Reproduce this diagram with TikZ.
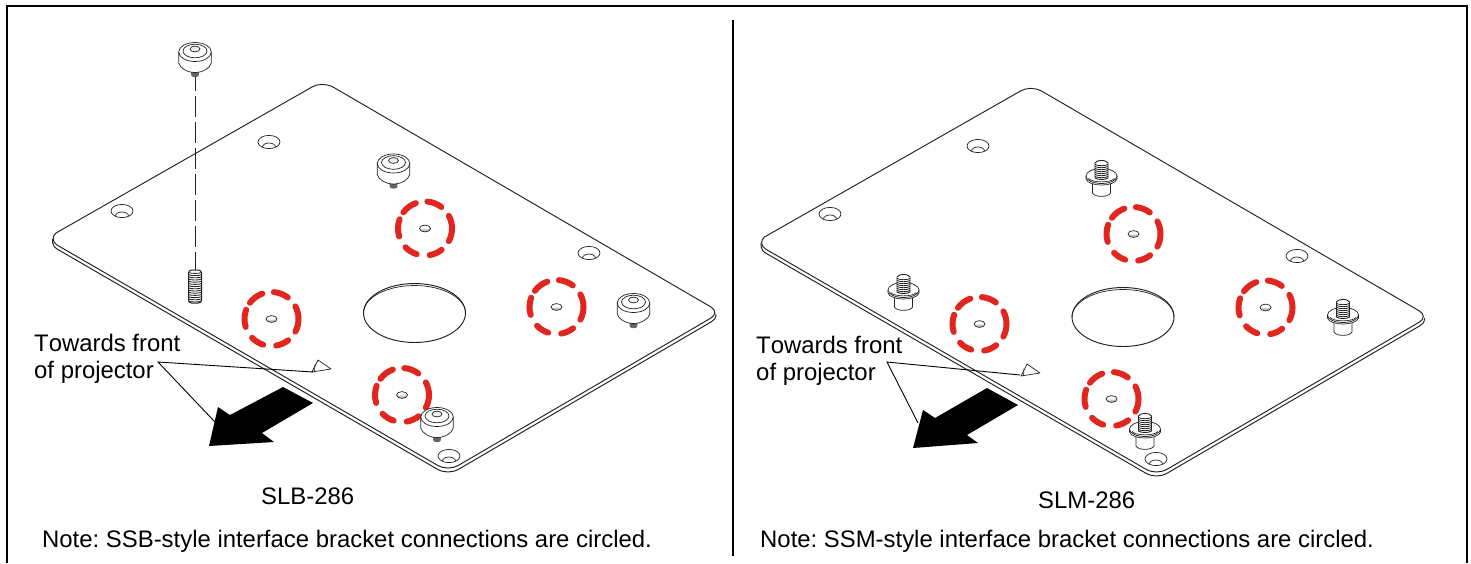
\documentclass[tikz,border=0pt]{standalone}
\usepackage{fontspec}
\setmainfont{Liberation Sans}
\definecolor{redmark}{HTML}{E0261F}
\definecolor{inkline}{HTML}{222222}
\tikzset{
  x=1pt,y=-1pt,
  frameline/.style={line width=2.2pt,black,line cap=butt},
  plateline/.style={line width=0.95pt,inkline},
  thinline/.style={line width=0.7pt,inkline},
  leader/.style={line width=0.9pt,black},
  label/.style={inner sep=0pt,anchor=base west,font=\fontsize{23.9}{27}\selectfont\frenchspacing,black},
  redarc/.style={line width=6pt,redmark,line cap=round},
  pics/platebody/.style={code={
    \draw[plateline,fill=white] (56,233) -- (312,87) .. controls (318,83.5) and (326,83.5) .. (333,87)
      -- (711,307) .. controls (716,310) and (716,315) .. (711,318)
      -- (459,465) .. controls (452,469) and (444,469) .. (437,465)
      -- (57,245) .. controls (52,242) and (52,236) .. (56,233) -- cycle;
    \draw[plateline] (52.7,239) -- (52.7,243) .. controls (53,246) and (55,248) .. (57,249)
      -- (437,469) .. controls (444,473) and (452,473) .. (459,469)
      -- (711,322) .. controls (714,320) and (716,319) .. (716,314);
  }},
  pics/bighole/.style={code={
    \draw[plateline] (0,0) ellipse [x radius=51,y radius=29.5];
    \draw[thinline] (-51,0) arc [start angle=180,end angle=360,x radius=51,y radius=27.5];
  }},
  pics/counterbore/.style={code={
    \draw[thinline] (0,0) ellipse [x radius=11,y radius=6.6];
    \begin{scope}
      \clip (0,0) ellipse [x radius=11,y radius=6.6];
      \draw[thinline] (0,5) ellipse [x radius=6.5,y radius=4];
    \end{scope}
  }},
  pics/ringmark/.style={code={
    \fill[gray!45] (-4.5,0.5) arc [start angle=180,end angle=0,x radius=4.5,y radius=2.7] -- cycle;
    \draw[thinline] (0,0) ellipse [x radius=5.5,y radius=3.4];
    \foreach \a/\b in {-53/-85,28/-28,80/52,136/108,-160/-197,-110/-143}{
      \draw[redarc] (\a:27) arc [start angle=\a,end angle=\b,radius=27];
    }
  }},
  pics/standoff/.style={code={
    \fill[inkline!70] (-4.5,18) -- (4.5,18) -- (3.5,24) .. controls (2,25.5) and (-2,25.5) .. (-3.5,24) -- cycle;
    \draw[thinline,fill=white] (-16.3,0) -- (-16.3,11) .. controls (-15,16) and (-8,20.5) .. (0,20.5)
      .. controls (8,20.5) and (15,16) .. (16.3,11) -- (16.3,0)
      arc [start angle=0,end angle=-180,x radius=16.3,y radius=9.5];
    \draw[thinline] (-16.3,0) arc [start angle=180,end angle=0,x radius=16.3,y radius=9.5];
    \draw[thinline] (0,-1) ellipse [x radius=12,y radius=6.8];
    \draw[thinline,fill=gray!12] (0,-3) ellipse [x radius=5,y radius=2.9];
  }},
  pics/threadscrew/.style={code={
    \draw[thinline,fill=white] (-9,6) -- (-9,17) .. controls (-7,21.5) and (7,21.5) .. (9,17) -- (9,6);
    \draw[thinline,fill=white] (-15.5,0) -- (-15.5,3) .. controls (-13,11) and (13,11) .. (15.5,3) -- (15.5,0);
    \draw[thinline,fill=white] (0,0) ellipse [x radius=15.5,y radius=7.5];
    \draw[thinline] (-13,2.5) .. controls (-9,7) and (9,7) .. (13,2.5);
    \draw[line width=0.9pt,inkline,fill=white] (-6.5,2) -- (-6.5,-13) .. controls (-5,-16.5) and (5,-16.5) .. (6.5,-13) -- (6.5,2)
       .. controls (4,4) and (-4,4) .. cycle;
    \foreach \t in {-11.5,-9.5,...,2}{
      \draw[line width=0.8pt,inkline] (-6.5,\t) .. controls (-3,\t+1.6) and (3,\t+1.6) .. (6.5,\t);
    }
  }},
  pics/frontmark/.style={code={
    \draw[thinline,line join=round] (0,0) -- (13,9) -- (-6,12) -- cycle;
    \draw[thinline] (-3,4.5) -- (-3.5,11.5);
  }}
}
\begin{document}
\begin{tikzpicture}
\useasboundingbox (0,0) rectangle (1471,563);
\fill[white] (0,0) rectangle (1471,563);

% frame
\coordinate (fbl) at (7,563); \coordinate (ftl) at (7,6);
\coordinate (ftr) at (1466.8,6); \coordinate (fbr) at (1466.8,563);
\draw[frameline,line join=miter] (fbl) -- (ftl) -- (ftr) -- (fbr);
\coordinate (dt) at (733,20); \coordinate (db) at (733,556);
\draw[line width=2pt,black] (dt) -- (db);

% ---------- left plate
\pic at (0,0) {platebody};
\pic at (414.5,313) {bighole};
\foreach \p in {(122,211),(269,142),(589,253),(449,456)}{\pic at \p {counterbore};}
\foreach \p in {(271.5,319),(425,228.5),(556.5,307),(402,395)}{\pic at \p {ringmark};}
\pic at (393.5,163.5) {standoff};
\pic at (633.5,303) {standoff};
\pic at (437,417) {standoff};

% exploded standoff + stud
\coordinate (expA) at (195,75); \coordinate (expB) at (195,270);
\draw[line width=0.9pt,inkline,dash pattern=on 21pt off 5pt,dash phase=5pt] (expA) -- (expB);
\pic at (195,52) {standoff};
\draw[line width=1pt,inkline,fill=white,rounded corners=3pt] (188.5,270) rectangle (201.5,303);
\foreach \t in {272.5,274.7,...,301.5}{
  \draw[line width=0.85pt,inkline] (188.5,\t) .. controls (191,\t+1.2) and (199,\t+1.2) .. (201.5,\t);
}

% front arrow and mark, left
\pic at (318,360) {frontmark};
\fill[black] (209,446) -- (218,407) -- (230,415) -- (283,387) -- (313,403) -- (262,433) -- (274,442) -- cycle;
\node[label] (tfa) at (34,351) {\addfontfeature{Kerning=Off}Towards front};
\node[label] (tfb) at (34,378) {of projector};
\coordinate (la) at (158,362); \coordinate (lb) at (313,372); \coordinate (lc) at (215,422);
\draw[leader] (lb) -- (la) -- (lc);
\node[label] (slb) at (261,504) {SLB-286};
\node[label] (notea) at (42,547) {Note: SSB-style interface bracket connections are circled.};

% ---------- right plate
\pic at (708.5,4) {platebody};
\pic at (1123,317) {bighole};
\foreach \p in {(830,214),(978,146),(1297,256),(1156,459)}{\pic at \p {counterbore};}
\foreach \p in {(979.5,324),(1133.5,234),(1265.5,307.5),(1111.5,399)}{\pic at \p {ringmark};}
\pic at (903.5,290) {threadscrew};
\pic at (1101.5,176) {threadscrew};
\pic at (1343,315) {threadscrew};
\pic at (1145,429) {threadscrew};

\pic at (1027,364) {frontmark};
\fill[black] (913,448) -- (923,410) -- (935,418) -- (987,388) -- (1018,405) -- (967,435) -- (978,443) -- cycle;
\node[label] (tfc) at (756,353) {\addfontfeature{Kerning=Off}Towards front};
\node[label] (tfd) at (756,380) {of projector};
\coordinate (ra) at (887,362); \coordinate (rb) at (1020,375); \coordinate (rc) at (918,423);
\draw[leader] (rb) -- (ra) -- (rc);
\node[label] (slm) at (1038,508) {SLM-286};
\node[label] (noteb) at (760,547) {Note: SSM-style interface bracket connections are circled.};
\end{tikzpicture}
\end{document}
